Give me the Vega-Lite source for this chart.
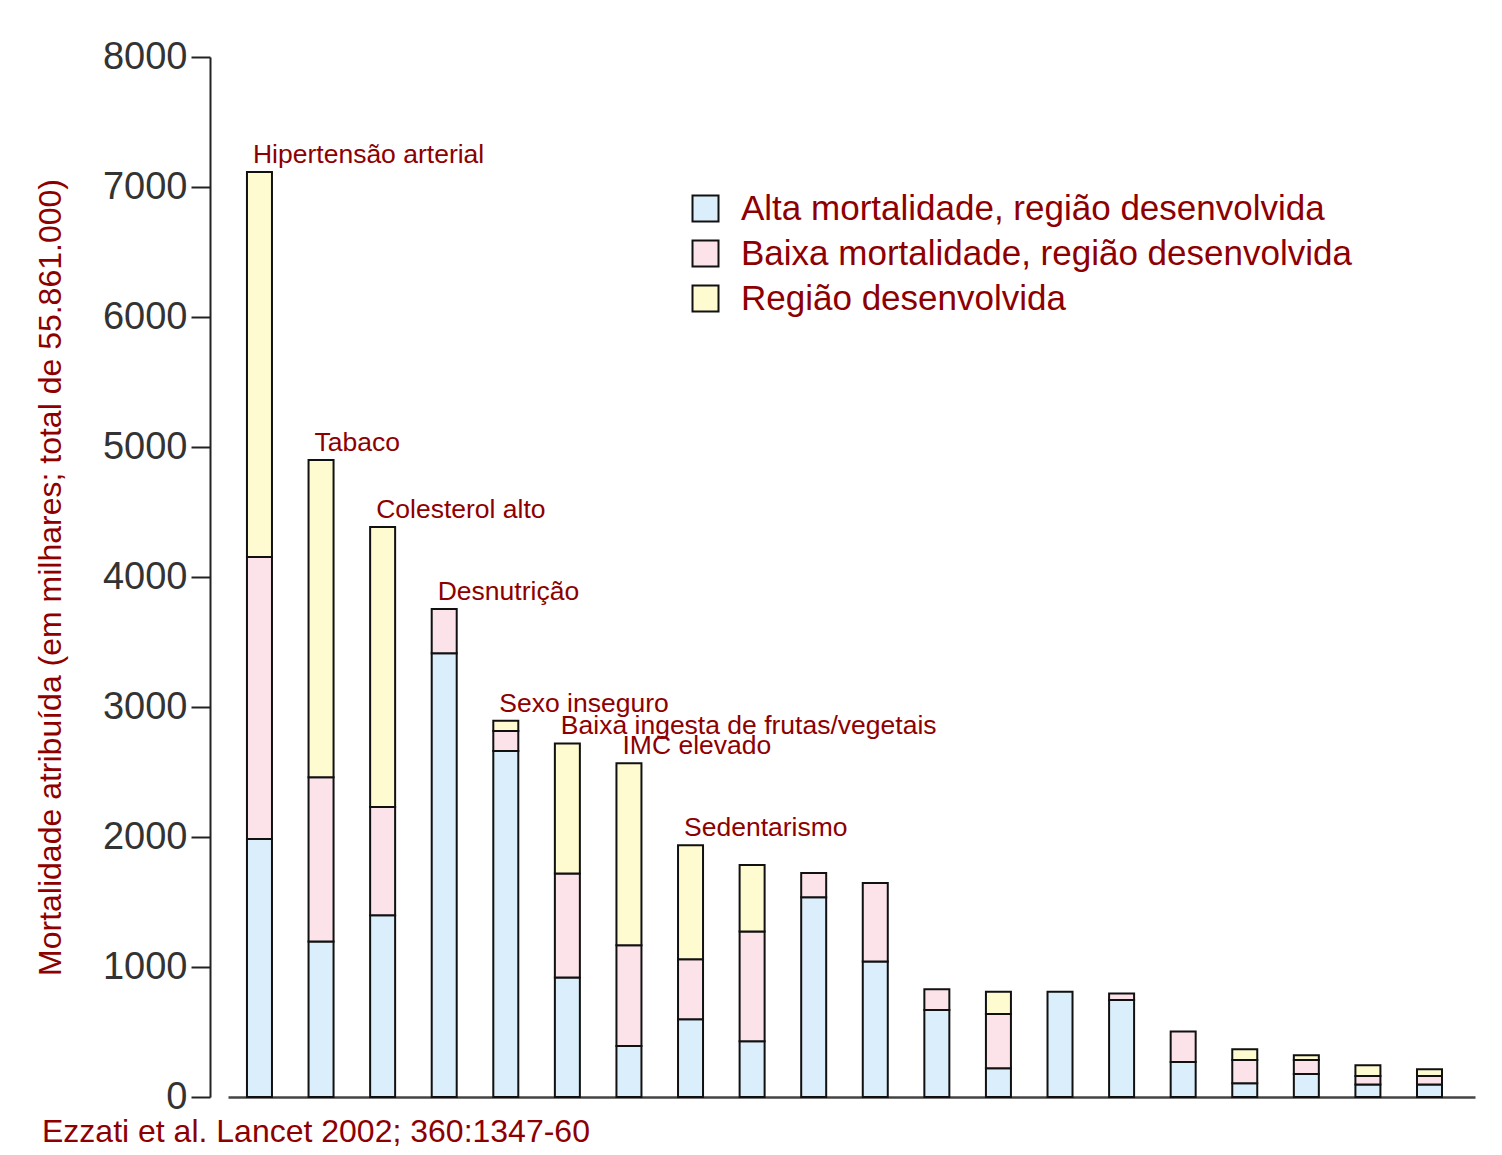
{
  "$schema": "https://vega.github.io/schema/vega-lite/v6.json",
  "autosize": {"type": "none"},
  "padding": {"left": 228, "top": 57, "right": 27, "bottom": 58},
  "width": 1247,
  "height": 1040,
  "background": "white",
  "title": {
    "text": "Ezzati et al. Lancet 2002; 360:1347-60",
    "orient": "bottom",
    "anchor": "start",
    "frame": "group",
    "dx": -186,
    "offset": 1,
    "font": "Liberation Sans",
    "fontSize": 32,
    "fontWeight": "normal",
    "color": "#8e0000",
    "baseline": "top"
  },
  "config": {
    "view": {"stroke": null},
    "font": "Liberation Sans"
  },
  "datasets": {
    "bars": [
      {"bar": 1, "grupo": "Alta mortalidade, região desenvolvida", "ordem": 1, "valor": 1985},
      {"bar": 1, "grupo": "Baixa mortalidade, região desenvolvida", "ordem": 2, "valor": 2169},
      {"bar": 1, "grupo": "Região desenvolvida", "ordem": 3, "valor": 2961},
      {"bar": 2, "grupo": "Alta mortalidade, região desenvolvida", "ordem": 1, "valor": 1197},
      {"bar": 2, "grupo": "Baixa mortalidade, região desenvolvida", "ordem": 2, "valor": 1263},
      {"bar": 2, "grupo": "Região desenvolvida", "ordem": 3, "valor": 2440},
      {"bar": 3, "grupo": "Alta mortalidade, região desenvolvida", "ordem": 1, "valor": 1398},
      {"bar": 3, "grupo": "Baixa mortalidade, região desenvolvida", "ordem": 2, "valor": 832},
      {"bar": 3, "grupo": "Região desenvolvida", "ordem": 3, "valor": 2155},
      {"bar": 4, "grupo": "Alta mortalidade, região desenvolvida", "ordem": 1, "valor": 3414},
      {"bar": 4, "grupo": "Baixa mortalidade, região desenvolvida", "ordem": 2, "valor": 340},
      {"bar": 5, "grupo": "Alta mortalidade, região desenvolvida", "ordem": 1, "valor": 2662},
      {"bar": 5, "grupo": "Baixa mortalidade, região desenvolvida", "ordem": 2, "valor": 153},
      {"bar": 5, "grupo": "Região desenvolvida", "ordem": 3, "valor": 80},
      {"bar": 6, "grupo": "Alta mortalidade, região desenvolvida", "ordem": 1, "valor": 920},
      {"bar": 6, "grupo": "Baixa mortalidade, região desenvolvida", "ordem": 2, "valor": 800},
      {"bar": 6, "grupo": "Região desenvolvida", "ordem": 3, "valor": 1000},
      {"bar": 7, "grupo": "Alta mortalidade, região desenvolvida", "ordem": 1, "valor": 393},
      {"bar": 7, "grupo": "Baixa mortalidade, região desenvolvida", "ordem": 2, "valor": 775},
      {"bar": 7, "grupo": "Região desenvolvida", "ordem": 3, "valor": 1400},
      {"bar": 8, "grupo": "Alta mortalidade, região desenvolvida", "ordem": 1, "valor": 599},
      {"bar": 8, "grupo": "Baixa mortalidade, região desenvolvida", "ordem": 2, "valor": 460},
      {"bar": 8, "grupo": "Região desenvolvida", "ordem": 3, "valor": 878},
      {"bar": 9, "grupo": "Alta mortalidade, região desenvolvida", "ordem": 1, "valor": 428},
      {"bar": 9, "grupo": "Baixa mortalidade, região desenvolvida", "ordem": 2, "valor": 846},
      {"bar": 9, "grupo": "Região desenvolvida", "ordem": 3, "valor": 510},
      {"bar": 10, "grupo": "Alta mortalidade, região desenvolvida", "ordem": 1, "valor": 1537},
      {"bar": 10, "grupo": "Baixa mortalidade, região desenvolvida", "ordem": 2, "valor": 186},
      {"bar": 11, "grupo": "Alta mortalidade, região desenvolvida", "ordem": 1, "valor": 1043},
      {"bar": 11, "grupo": "Baixa mortalidade, região desenvolvida", "ordem": 2, "valor": 603},
      {"bar": 12, "grupo": "Alta mortalidade, região desenvolvida", "ordem": 1, "valor": 669},
      {"bar": 12, "grupo": "Baixa mortalidade, região desenvolvida", "ordem": 2, "valor": 159},
      {"bar": 13, "grupo": "Alta mortalidade, região desenvolvida", "ordem": 1, "valor": 221},
      {"bar": 13, "grupo": "Baixa mortalidade, região desenvolvida", "ordem": 2, "valor": 417},
      {"bar": 13, "grupo": "Região desenvolvida", "ordem": 3, "valor": 172},
      {"bar": 14, "grupo": "Alta mortalidade, região desenvolvida", "ordem": 1, "valor": 810},
      {"bar": 15, "grupo": "Alta mortalidade, região desenvolvida", "ordem": 1, "valor": 746},
      {"bar": 15, "grupo": "Baixa mortalidade, região desenvolvida", "ordem": 2, "valor": 51},
      {"bar": 16, "grupo": "Alta mortalidade, região desenvolvida", "ordem": 1, "valor": 269},
      {"bar": 16, "grupo": "Baixa mortalidade, região desenvolvida", "ordem": 2, "valor": 234},
      {"bar": 17, "grupo": "Alta mortalidade, região desenvolvida", "ordem": 1, "valor": 105},
      {"bar": 17, "grupo": "Baixa mortalidade, região desenvolvida", "ordem": 2, "valor": 180},
      {"bar": 17, "grupo": "Região desenvolvida", "ordem": 3, "valor": 82},
      {"bar": 18, "grupo": "Alta mortalidade, região desenvolvida", "ordem": 1, "valor": 177},
      {"bar": 18, "grupo": "Baixa mortalidade, região desenvolvida", "ordem": 2, "valor": 108},
      {"bar": 18, "grupo": "Região desenvolvida", "ordem": 3, "valor": 36},
      {"bar": 19, "grupo": "Alta mortalidade, região desenvolvida", "ordem": 1, "valor": 97},
      {"bar": 19, "grupo": "Baixa mortalidade, região desenvolvida", "ordem": 2, "valor": 65},
      {"bar": 19, "grupo": "Região desenvolvida", "ordem": 3, "valor": 82},
      {"bar": 20, "grupo": "Alta mortalidade, região desenvolvida", "ordem": 1, "valor": 97},
      {"bar": 20, "grupo": "Baixa mortalidade, região desenvolvida", "ordem": 2, "valor": 65},
      {"bar": 20, "grupo": "Região desenvolvida", "ordem": 3, "valor": 51}
    ],
    "rotulos": [
      {"bar": 1, "rotulo": "Hipertensão arterial", "total": 7115},
      {"bar": 2, "rotulo": "Tabaco", "total": 4900},
      {"bar": 3, "rotulo": "Colesterol alto", "total": 4385},
      {"bar": 4, "rotulo": "Desnutrição", "total": 3754},
      {"bar": 5, "rotulo": "Sexo inseguro", "total": 2895},
      {"bar": 6, "rotulo": "Baixa ingesta de frutas/vegetais", "total": 2720},
      {"bar": 7, "rotulo": "IMC elevado", "total": 2568},
      {"bar": 8, "rotulo": "Sedentarismo", "total": 1937}
    ]
  },
  "layer": [
    {
      "data": {"name": "bars"},
      "mark": {"type": "bar", "stroke": "#111111", "strokeWidth": 2},
      "encoding": {
        "x": {
          "field": "bar",
          "type": "ordinal",
          "scale": {"paddingInner": 0.594, "paddingOuter": 0.422, "align": 0.365},
          "axis": {
            "title": null,
            "labels": false,
            "ticks": false,
            "domain": true,
            "domainColor": "#444444",
            "domainWidth": 2.5
          }
        },
        "y": {
          "field": "valor",
          "type": "quantitative",
          "stack": "zero",
          "scale": {"domain": [0, 8000], "nice": false},
          "axis": {
            "title": "Mortalidade atribuída (em milhares; total de 55.861.000)",
            "titleFont": "Liberation Sans",
            "titleFontSize": 32,
            "titleFontWeight": "normal",
            "titleColor": "#8e0000",
            "titlePadding": 35,
            "values": [0, 1000, 2000, 3000, 4000, 5000, 6000, 7000, 8000],
            "format": "d",
            "offset": 18,
            "grid": false,
            "domainColor": "#222222",
            "domainWidth": 2,
            "tickColor": "#222222",
            "tickWidth": 2,
            "tickSize": 19,
            "labelFont": "Liberation Sans",
            "labelFontSize": 38,
            "labelColor": "#333333",
            "labelPadding": 4
          }
        },
        "color": {
          "field": "grupo",
          "type": "nominal",
          "scale": {
            "domain": ["Alta mortalidade, região desenvolvida", "Baixa mortalidade, região desenvolvida", "Região desenvolvida"],
            "range": ["#dbeefb", "#fce3ea", "#fefbd0"]
          },
          "legend": {
            "title": null,
            "orient": "none",
            "legendX": 460,
            "legendY": 134,
            "padding": 0,
            "symbolType": "square",
            "symbolSize": 676,
            "symbolStrokeColor": "#111111",
            "symbolStrokeWidth": 2,
            "symbolOpacity": 1,
            "labelFont": "Liberation Sans",
            "labelFontSize": 35,
            "labelColor": "#8e0000",
            "labelOffset": 18,
            "labelLimit": 800,
            "rowPadding": 9
          }
        },
        "order": {"field": "ordem", "type": "quantitative"}
      }
    },
    {
      "data": {"name": "rotulos"},
      "mark": {
        "type": "text",
        "align": "left",
        "baseline": "alphabetic",
        "dx": 6,
        "dy": -9,
        "font": "Liberation Sans",
        "fontSize": 26.5,
        "color": "#8e0000"
      },
      "encoding": {
        "x": {"field": "bar", "type": "ordinal", "bandPosition": 0},
        "y": {"field": "total", "type": "quantitative"},
        "text": {"field": "rotulo"}
      }
    }
  ]
}
